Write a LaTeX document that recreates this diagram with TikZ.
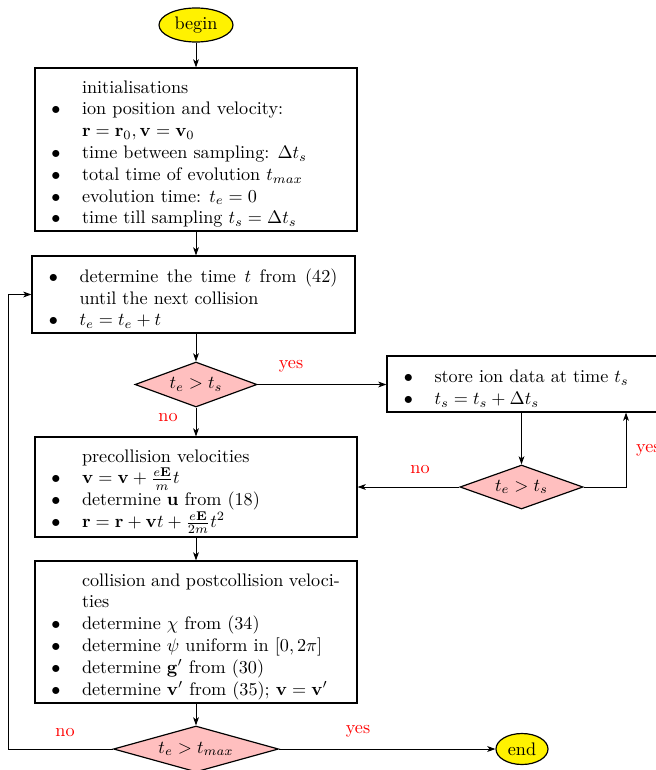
\documentclass[tikz,border=0pt]{standalone}
\usetikzlibrary{shapes.geometric,arrows.meta}
\newenvironment{flist}{\begin{list}{\makebox[0pt]{$\bullet$}}{%
  \setlength\leftmargin{16.5pt}\setlength\labelwidth{0pt}\setlength\labelsep{14.3pt}%
  \setlength\topsep{0pt}\setlength\partopsep{0pt}\setlength\parsep{0pt}\setlength\itemsep{0pt}%
  \setlength\itemindent{0pt}\setlength\rightmargin{0pt}%
  \renewcommand\makelabel[1]{##1}}}{\end{list}}
\begin{document}
\begin{tikzpicture}[x=0.55pt,y=-0.55pt,
  box/.style={draw,line width=0.65pt,rectangle,minimum width=177.1pt,text width=158.4pt,inner xsep=0pt,inner ysep=0pt,align=justify},
  dec/.style={draw,line width=0.65pt,diamond,shape aspect=3,fill=pink,inner sep=0pt},
  term/.style={draw,line width=0.65pt,ellipse,fill=yellow,inner sep=0pt},
  arr/.style={line width=0.5pt,-{Stealth[length=4.5pt,width=3.2pt,inset=1.2pt]}},
  lbl/.style={text=red,inner sep=1pt}]
\useasboundingbox (0,0) rectangle (656,770);
\node[term,minimum width=40.7pt,minimum height=18.7pt] (begin) at (196,25) {begin};
\node[box,minimum height=89.65pt] (b1) at (196,149.5) {\begin{flist}
\item[] initialisations
\item ion position and velocity:\\ $\mathbf{r}=\mathbf{r}_0,\mathbf{v}=\mathbf{v}_0$
\item time between sampling: $\Delta t_s$
\item total time of evolution $t_{max}$
\item evolution time: $t_e=0$
\item time till sampling $t_s=\Delta t_s$
\end{flist}};
\node[box,minimum width=177.65pt,minimum height=42.35pt] (b2) at (193.5,294.5) {\begin{flist}
\item determine the time $t$ from (42)\linebreak until the next collision
\item $t_e=t_e+t$
\end{flist}};
\node[dec,minimum width=67.1pt,minimum height=24.75pt] (d1) at (196,384.5) {$t_e>t_s$};
\node[box,minimum width=177.65pt,minimum height=30.8pt] (st) at (548.5,384) {\begin{flist}
\item store ion data at time $t_s$
\item $t_s=t_s+\Delta t_s$
\end{flist}};
\node[dec,minimum width=67.65pt,minimum height=24.2pt] (d2) at (521.5,487) {$t_e>t_s$};
\node[box,minimum height=55pt] (b3) at (196,487) {\begin{flist}
\item[] precollision velocities
\item $\mathbf v=\mathbf v+\frac{e\mathbf E}{m}t$
\item determine $\mathbf u$ from (18)
\item $\mathbf r=\mathbf r+\mathbf vt+\frac{e\mathbf E}{2m}t^2$
\end{flist}};
\node[box,minimum height=78.1pt] (b4) at (196,632) {\begin{flist}
\item[] collision and postcollision veloci-\linebreak ties
\item determine $\chi$ from (34)
\item determine $\psi$ uniform in $[0,2\pi]$
\item determine $\mathbf g'$ from (30)
\item determine $\mathbf v'$ from (35); $\mathbf v=\mathbf v'$
\end{flist}};
\node[dec,minimum width=90.75pt,minimum height=25.3pt] (d3) at (196,749) {$t_e>t_{max}$};
\node[term,minimum width=28.6pt,minimum height=17.05pt] (end) at (522,749) {end};
\coordinate (lp) at (8,749);
\path (st.south) ++(77.5,0) coordinate (sy);
\node[lbl] (l1) at (291,366) {yes};
\node[lbl] (l2) at (168,418) {no};
\node[lbl] (l3) at (420,470) {no};
\node[lbl,anchor=west] (l4) at (634,450) {yes};
\node[lbl] (l5) at (65,733) {no};
\node[lbl] (l6) at (358,731) {yes};
\draw[arr] (begin) -- (b1);
\draw[arr] (b1.south) -- (b1.south |- b2.north);
\draw[arr] (d1.north |- b2.south) -- (d1.north);
\draw[arr] (d1.east) -- (d1.east -| st.west);
\draw[arr] (d1.south) -- (b3.north);
\draw[arr] (d2.north |- st.south) -- (d2.north);
\draw[arr] (d2.east) -| (sy);
\draw[arr] (d2.west) -- (d2.west -| b3.east);
\draw[arr] (b3.south) -- (b4.north);
\draw[arr] (b4.south) -- (d3.north);
\draw[arr] (d3.west) -- (lp) |- (b2.west);
\draw[arr] (d3.east) -- (end.west);
\end{tikzpicture}
\end{document}
